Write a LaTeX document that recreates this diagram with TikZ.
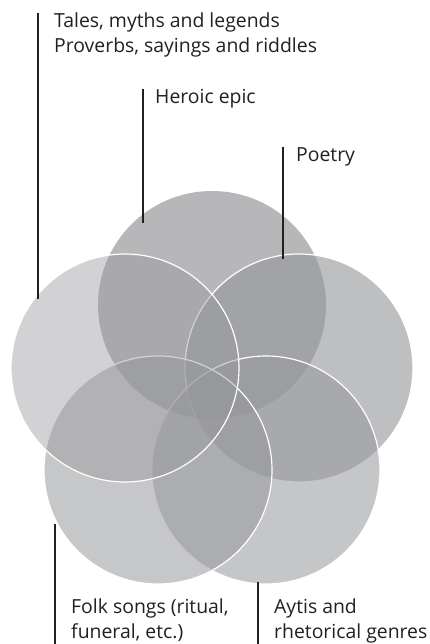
\documentclass[tikz,border=0pt]{standalone}
\usepackage{fontspec}
\setmainfont{Open Sans}
\usetikzlibrary{positioning}
\definecolor{petalgray}{RGB}{150,151,155}
\definecolor{inkgray}{RGB}{35,31,32}
\tikzset{
  petal/.style={circle, fill=petalgray, draw=white, line width=1.2pt,
                minimum size=228pt, inner sep=0pt},
  pointer/.style={draw=inkgray, line width=1.6pt},
  lbl/.style={font=\fontsize{19.4}{25}\selectfont, text=inkgray, align=left,
              inner sep=0pt, anchor=base west}
}

\begin{document}
\begin{tikzpicture}[x=1pt,y=-1pt]
  \useasboundingbox (0,0) rectangle (429,644);
  % petals, back to front
  \node[petal, draw=none, fill opacity=0.69] (epic) at (212,305) {};
  \node[petal, fill opacity=0.62] (poetry) at (299,368) {};
  \node[petal, fill opacity=0.55] (aytis) at (266,470) {};
  \node[petal, fill opacity=0.54] (songs) at (158,470) {};
  \node[petal, fill opacity=0.43] (tales) at (125,368) {};
  % labels (base = last line)
  \node[lbl] (talesl) at (54,53) {Tales, myths and legends\\Proverbs, sayings and riddles};
  \node[lbl] (epicl) at (155,104) {Heroic epic};
  \node[lbl] (poetryl) at (296,162) {Poetry};
  \node[lbl] (songsl) at (71,638) {Folk songs (ritual,\\funeral, etc.)};
  \node[lbl] (aytisl) at (274,638) {Aytis and\\rhetorical genres};
  % pointers
  \coordinate (talesa) at (38,13);   \coordinate (talesb) at (38,299);
  \coordinate (epica) at (143,89);   \coordinate (epicb) at (143,223);
  \coordinate (poetrya) at (283,147); \coordinate (poetryb) at (283,259);
  \coordinate (songsa) at (55,524);  \coordinate (songsb) at (55,644);
  \coordinate (aytisa) at (258,582); \coordinate (aytisb) at (258,644);
  \foreach \p in {tales,epic,poetry,songs,aytis}
    \draw[pointer] (\p a) -- (\p b);
\end{tikzpicture}
\end{document}
